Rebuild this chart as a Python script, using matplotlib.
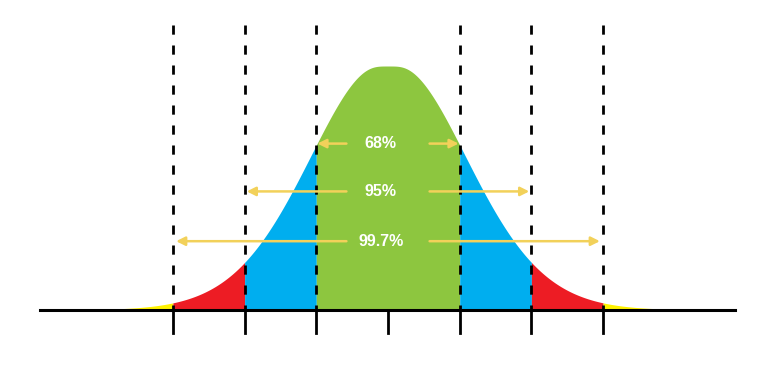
import matplotlib.pyplot as plt
import numpy as np

# sigma positions of the guide lines / ticks
sigma_lines = [-3, -2, -1, 1, 2, 3]
sigma_ticks = [-3, -2, -1, 0, 1, 2, 3]

# bands: (from, to, colour)
bands = [(-4.6, -3, "#FFF200"), (-3, -2, "#ED1C24"), (-2, -1, "#00AEEF"),
         (-1, 1, "#8DC63F"), (1, 2, "#00AEEF"), (2, 3, "#ED1C24"), (3, 4.6, "#FFF200")]

# interval labels and the height of their arrows
labels = ["68%", "95%", "99.7%"]
label_reach = [1, 2, 3]
label_y = [0.682, 0.486, 0.282]

# bell shape: gaussian-like sides, rounded flat top, slightly fat tails
decay = 0.44
flat = 0.11
tail = 0.012


def curve(x):
    x2 = x ** 2
    return np.exp(-decay * x2 * x2 / (x2 + flat) / (1 + tail * x2))


fig = plt.figure(figsize=(7.73, 3.68), dpi=100)
ax = fig.add_axes([0, 0, 1, 1])
ax.set_xlim(-388 / 71.7, (773 - 388) / 71.7)
ax.set_ylim(-58 / 244, 310 / 244)
ax.axis("off")

for lo, hi, c in bands:
    xs = np.linspace(lo, hi, 200)
    ax.fill_between(xs, 0, curve(xs), color=c, lw=0)

for s in sigma_lines:
    ax.plot([s, s], [1.17, 0], color="black", lw=2,
            linestyle=(0, (3.3, 3.9)), zorder=3)

for s in sigma_ticks:
    ax.plot([s, s], [0, -0.094], color="black", lw=2, zorder=3)

ax.plot([-4.85, 4.84], [0, 0], color="black", lw=2.2, zorder=4)

arrow_col = "#F2D15A"
for lab, r, y in zip(labels, label_reach, label_y):
    for sign in (-1, 1):
        ax.annotate("", xy=(sign * r * 0.985, y), xytext=(sign * 0.58, y),
                    arrowprops=dict(arrowstyle="-|>", color=arrow_col, lw=1.8,
                                    mutation_scale=13, shrinkA=0, shrinkB=0),
                    zorder=5)
    ax.text(-0.1, y, lab, color="white", fontsize=11.5, fontweight="bold",
            family="Liberation Sans", ha="center", va="center", zorder=6)

fig.savefig("out.png", dpi=100)
